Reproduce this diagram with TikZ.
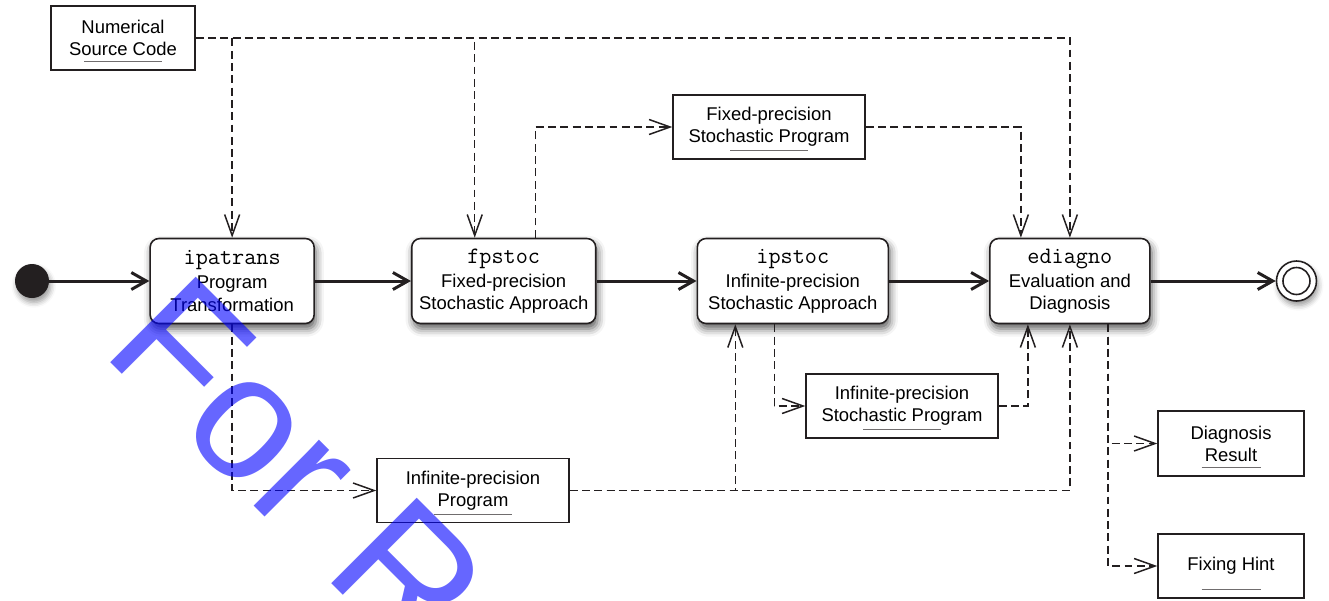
\documentclass[tikz,border=0pt]{standalone}
\usepackage{fontspec}
\setmainfont{Liberation Sans}
\setsansfont{Liberation Sans}
\usetikzlibrary{arrows.meta, positioning, calc, shadows.blur}
\definecolor{umInk}{RGB}{35,31,32}
\definecolor{umMark}{RGB}{0,0,255}
\newcommand{\actname}[1]{{\fontsize{13.4}{14}\selectfont\ttfamily #1}}

\begin{document}
\begin{tikzpicture}[font=\fontsize{10.5}{12.6}\selectfont,
  act/.style={draw=umInk,line width=0.9pt,rounded corners=5pt,fill=white,
              minimum height=1.7cm,align=center,inner sep=2pt,
              blur shadow={shadow xshift=1pt,shadow yshift=-3pt,
                           shadow blur radius=4.5pt,shadow opacity=65}},
  obj/.style={draw=umInk,line width=0.8pt,fill=white,minimum width=3.84cm,
              minimum height=1.28cm,align=center,inner sep=2pt},
  flow/.style={draw=umInk,line width=1.7pt,
               -{Straight Barb[length=3mm,width=3.4mm]}},
  data/.style={draw=umInk,line width=0.85pt,dash pattern=on 4.5pt off 2.5pt,
               -{Straight Barb[length=4.2mm,width=3mm]}},
  ul/.style={draw=umInk!65,line width=0.6pt}]

\useasboundingbox (0,0) rectangle (26.58,-12);

% activities
\node[circle,fill=umInk,minimum size=0.68cm,inner sep=0pt,
      blur shadow={shadow xshift=1pt,shadow yshift=-2.5pt,shadow blur radius=3pt}]
   (start) at (0.64,-5.62) {};
\node[act,minimum width=3.28cm,right=2cm of start] (ipatrans)
   {\actname{ipatrans}\\[1pt]Program\\Transformation};
\node[act,minimum width=3.68cm,right=1.92cm of ipatrans] (fpstoc)
   {\actname{fpstoc}\\[1pt]Fixed-precision\\Stochastic Approach};
\node[act,minimum width=3.82cm,right=2cm of fpstoc] (ipstoc)
   {\actname{ipstoc}\\[1pt]Infinite-precision\\Stochastic Approach};
\node[act,minimum width=3.2cm,right=2cm of ipstoc] (ediagno)
   {\actname{ediagno}\\[1pt]Evaluation and\\Diagnosis};
\node[circle,draw=umInk,line width=0.9pt,fill=white,minimum size=0.8cm,
      inner sep=0pt,right=2.5cm of ediagno,
      blur shadow={shadow xshift=1pt,shadow yshift=-2.5pt,shadow blur radius=3pt}]
   (end) {};
\node[circle,draw=umInk,line width=0.9pt,minimum size=0.54cm,inner sep=0pt]
   (endin) at (end) {};

% objects
\node[obj,minimum width=2.88cm] (src) at (2.46,-0.76) {Numerical\\Source Code};
\node[obj] (fpprog)  at (15.38,-2.54) {Fixed-precision\\Stochastic Program};
\node[obj] (ipprog)  at (9.46,-9.81)  {Infinite-precision\\Program};
\node[obj] (ipsprog) at (18.04,-8.12) {Infinite-precision\\Stochastic Program};
\node[obj,minimum width=2.92cm,minimum height=1.3cm] (diagres) at (24.62,-8.87)
   {Diagnosis\\Result};
\node[obj,minimum width=2.92cm] (fixhint) at (24.62,-11.32) {Fixing Hint};

\foreach \n/\w in {src/1.56,fpprog/1.56,ipprog/1.56,ipsprog/1.56,
                   diagres/1.18,fixhint/1.18}
  \draw[ul] ([yshift=1.8mm]\n.south) ++(-\w/2,0) -- ++(\w,0);

% control flow
\draw[flow] (start) -- (ipatrans);
\draw[flow] (ipatrans) -- (fpstoc);
\draw[flow] (fpstoc) -- (ipstoc);
\draw[flow] (ipstoc) -- (ediagno);
\draw[flow] (ediagno) -- (end);

% object flow
\draw[data] (src.east) -| (ipatrans.north);
\draw[data] (src.east) -| ([xshift=-5.8mm]fpstoc.north);
\draw[data] (src.east) -| (ediagno.north);
\draw[data] ([xshift=6.4mm]fpstoc.north) |- (fpprog.west);
\draw[data] (fpprog.east) -| ([xshift=-9.8mm]ediagno.north);
\draw[data] (ipatrans.south) |- (ipprog.west);
\draw[data] (ipprog.east) -| ([xshift=-11.5mm]ipstoc.south);
\draw[data] (ipprog.east) -| (ediagno.south);
\draw[data] ([xshift=-3.7mm]ipstoc.south) |- (ipsprog.west);
\draw[data] (ipsprog.east) -| ([xshift=-8.4mm]ediagno.south);
\draw[data] ([xshift=7.6mm]ediagno.south) |- (diagres.west);
\draw[data] ([xshift=7.6mm]ediagno.south) |- (fixhint.west);

% watermark
\node[text=umMark,opacity=0.6,rotate=-45,anchor=base west,inner sep=0pt,
      font=\fontsize{100}{100}\selectfont] (wmark) at (2.0,-7.04) {For R};
\end{tikzpicture}
\end{document}
